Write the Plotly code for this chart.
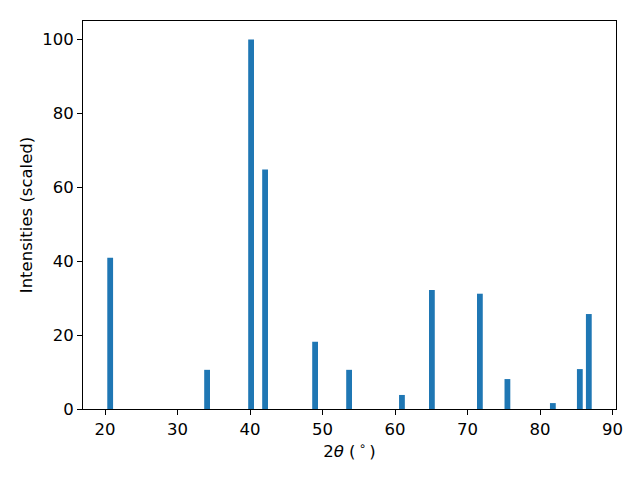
import plotly.graph_objects as go

two_theta = [20.7, 34.07, 40.14, 42.07, 48.97, 53.66, 60.95, 65.08, 71.7, 75.5, 81.77, 85.49, 86.73]
intensity = [40.9, 10.6, 100.0, 64.8, 18.2, 10.6, 3.8, 32.2, 31.2, 8.1, 1.6, 10.8, 25.7]
x_ticks = [20, 30, 40, 50, 60, 70, 80, 90]
y_ticks = [0, 20, 40, 60, 80, 100]

fig = go.Figure()
fig.add_trace(go.Bar(x=two_theta, y=intensity, width=0.8,
                     marker=dict(color="#1f77b4", line=dict(width=0))))

font = dict(family="DejaVu Sans", size=16.5, color="black")
fig.update_layout(
    width=640, height=480,
    margin=dict(l=83, r=24, t=21, b=71, autoexpand=False),
    paper_bgcolor="white", plot_bgcolor="white",
    font=font, showlegend=False,
)
axis_common = dict(showline=True, linecolor="black", linewidth=1.1, mirror=True,
                   ticks="outside", ticklen=5, tickwidth=1.1, tickcolor="black",
                   showgrid=False, zeroline=False, tickfont=font, automargin=False)
fig.update_xaxes(range=[16.95, 90.48], tickvals=x_ticks,
                 title=dict(text="2<i>θ</i> (\u2009<sup>∘</sup>\u2009)", font=font, standoff=6),
                 **axis_common)
fig.update_yaxes(range=[0, 105], tickvals=y_ticks,
                 title=dict(text="Intensities (scaled)", font=font, standoff=5),
                 **axis_common)

fig.write_html("out.html", config={"displayModeBar": False},
               post_script="document.body.style.margin='0px';")
